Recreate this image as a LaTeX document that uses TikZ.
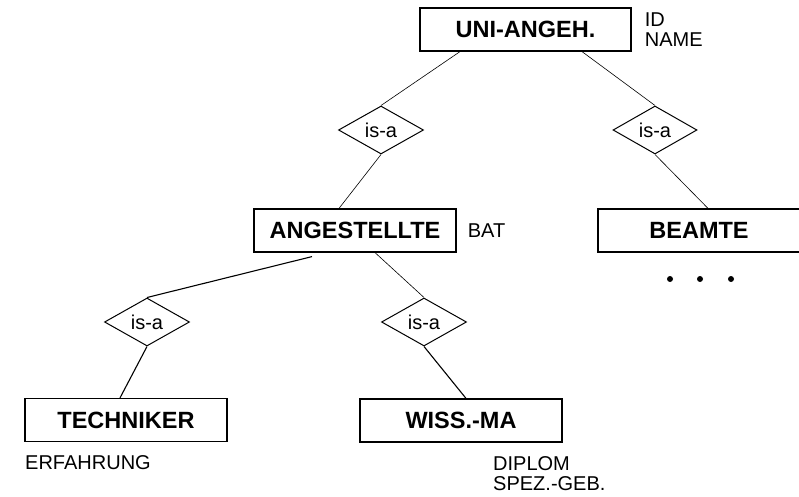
\documentclass[tikz,border=0pt]{standalone}
\usepackage{fontspec}
\setmainfont{Liberation Sans}
\usetikzlibrary{shapes.geometric}

\tikzset{
    entity/.style={draw,line width=1.2pt,minimum width=202pt,minimum height=43pt,inner sep=0pt,
        font=\fontsize{23.5}{28}\selectfont\bfseries},
    isa/.style={draw,diamond,line width=1pt,minimum width=85pt,minimum height=48pt,inner sep=0pt,
        font=\fontsize{20}{24}\selectfont},
    attr/.style={align=left,inner sep=0pt,font=\fontsize{20}{20}\selectfont},
    link/.style={line width=0.6pt},
    thicklink/.style={line width=1.1pt}
}

\begin{document}
\begin{tikzpicture}[x=1pt,y=1pt]
    \useasboundingbox (0,0) rectangle (799,496);
    \clip (0,0) rectangle (799,496);

    \node[entity,minimum width=211pt] (uni) at (525.5,466.5) {UNI-ANGEH.};
    \node[isa] (isaL) at (381,366) {is-a};
    \node[isa,minimum width=84pt] (isaR) at (655,366) {is-a};
    \node[entity] (ang) at (355,265.5) {ANGESTELLTE};
    \node[entity] (beamte) at (699,265.5) {BEAMTE};
    \node[isa] (isaT) at (147,174) {is-a};
    \node[isa] (isaW) at (424,174) {is-a};
    \node[entity] (tech) at (126,76) {TECHNIKER};
    \node[entity] (wiss) at (461,75.5) {WISS.-MA};

    \node[attr,anchor=west] (uniattr) at ([xshift=13pt]uni.east) {ID\\NAME};
    \node[attr,anchor=west] (angattr) at ([xshift=11pt]ang.east) {BAT};
    \node[attr,anchor=west] (techattr) at (25,33) {ERFAHRUNG};
    \node[attr,anchor=west] (wissattr) at (493,22) {DIPLOM\\SPEZ.-GEB.};

    \draw[link] ([xshift=-65.5pt]uni.south) -- (isaL.north);
    \draw[link] ([xshift=56.5pt]uni.south) -- (isaR.north);
    \draw[link] (isaL.south) -- ([xshift=-16pt]ang.north);
    \draw[link] (isaR.south) -- ([xshift=9pt]beamte.north);
    \draw[thicklink] ([xshift=-43pt,yshift=-4pt]ang.south) -- (isaT.north);
    \draw[link] ([xshift=20pt]ang.south) -- (isaW.north);
    \draw[thicklink] (isaT.south) -- ([xshift=-6pt]tech.north);
    \draw[thicklink] (isaW.south) -- ([xshift=5pt]wiss.north);

    \foreach \x in {670,700,731}
        \fill (\x,217) circle (3pt);
\end{tikzpicture}
\end{document}
